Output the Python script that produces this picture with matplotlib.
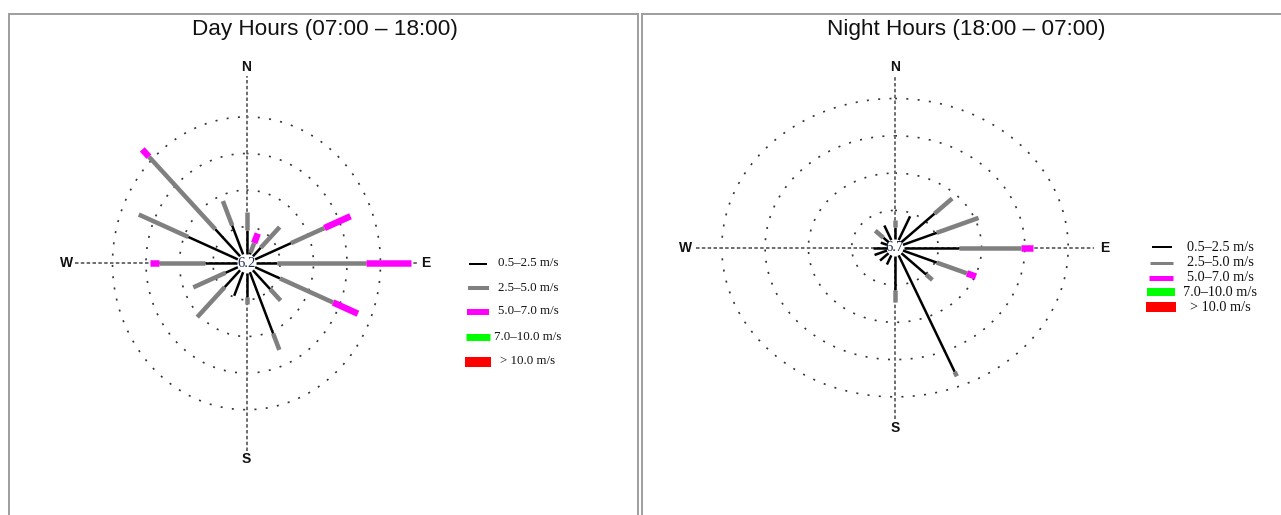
import numpy as np
import matplotlib
matplotlib.use("Agg")
import matplotlib.pyplot as plt
from matplotlib.lines import Line2D
from matplotlib.patches import Rectangle

W, H, DPI = 1281, 515, 100

# ---- data -------------------------------------------------------------
directions = ["N", "NNE", "NE", "ENE", "E", "ESE", "SE", "SSE",
              "S", "SSW", "SW", "WSW", "W", "WNW", "NW", "NNW"]
speed_classes = ["0.5\u20132.5 m/s", "2.5\u20135.0 m/s", "5.0\u20137.0 m/s",
                 "7.0\u201310.0 m/s", "> 10.0 m/s"]
class_colors = ["#000000", "#808080", "#ff00ff", "#00ff00", "#ff0000"]

# frequency (%) per direction for each wind speed class
day_title = "Day Hours (07:00 \u2013 18:00)"
day_calm = 6.2
day_c1 = [2.3, 0.8, 1.5, 3.6, 2.3, 2.7, 2.5, 5.2, 2.3, 2.4, 2.3, 1.7, 3.1, 4.7, 3.3, 2.8]
day_c2 = [1.2, 0.7, 2.0, 2.7, 6.6, 4.3, 1.1, 1.2, 0.5, 0.0, 2.9, 2.6, 3.4, 4.0, 7.0, 1.8]
day_c3 = [0.0, 0.7, 0.0, 2.1, 3.4, 2.0, 0.0, 0.0, 0.0, 0.0, 0.0, 0.0, 0.7, 0.0, 0.7, 0.0]
day_c4 = [0.0] * 16
day_c5 = [0.0] * 16

night_title = "Night Hours (18:00 \u2013 07:00)"
night_calm = 6.7
night_c1 = [2.5, 4.1, 5.8, 4.7, 6.6, 4.7, 4.6, 16.2, 5.1, 2.2, 2.2, 2.3, 2.3, 1.6, 1.7, 2.9]
night_c2 = [0.8, 0.0, 2.6, 4.7, 6.5, 3.4, 0.9, 0.6, 1.4, 0.0, 0.0, 0.0, 0.0, 0.0, 1.2, 0.0]
night_c3 = [0.0, 0.0, 0.0, 0.0, 1.2, 1.0, 0.0, 0.0, 0.0, 0.0, 0.0, 0.0, 0.0, 0.0, 0.0, 0.0]
night_c4 = [0.0] * 16
night_c5 = [0.0] * 16

# ---- figure -----------------------------------------------------------
fig = plt.figure(figsize=(W / DPI, H / DPI), dpi=DPI, facecolor="white")


def fx(px):
    return px / W


def fy(py):
    return 1 - py / H


def px2pt(p):
    return p * 72.0 / DPI


# panel frames
for (x0, x1) in [(8.5, 637.5), (641.5, 1290)]:
    fig.add_artist(Rectangle((fx(x0), fy(520)), fx(x1 - x0), (520 - 13.5) / H,
                             transform=fig.transFigure, fill=False,
                             edgecolor="#a0a0a0", linewidth=px2pt(2)))


def draw_rose(cx, cy, sx, sy, step, classes, calm, title, title_x,
              axis_ext, label_ext, calm_px, calm_fs, legend):
    """sx, sy: pixels per ring; step: ring spacing in percent."""
    nr = 6
    w, h = 2 * nr * sx, 2 * nr * sy
    ax = fig.add_axes([fx(cx - w / 2), fy(cy + h / 2), w / W, h / H])
    lim = nr * step
    ax.set_xlim(-lim, lim)
    ax.set_ylim(-lim, lim)
    ax.set_axis_off()

    # dotted frequency rings
    t = np.linspace(0, 2 * np.pi, 721)
    for k in range(1, 5):
        ax.plot(k * step * np.sin(t), k * step * np.cos(t), color="#333333",
                lw=1.2, linestyle=(0, (1.2, 5.6)), zorder=1, clip_on=False)

    # dashed compass axes
    a = axis_ext * step
    ax.plot([0, 0], [-a, a], color="#6e6e6e", lw=1.4,
            linestyle=(0, (1.8, 1.2)), zorder=2, clip_on=False)
    ax.plot([-a, a], [0, 0], color="#6e6e6e", lw=1.4,
            linestyle=(0, (1.8, 1.2)), zorder=2, clip_on=False)
    b = label_ext * step
    for lab, (x, y) in {"N": (0, b), "S": (0, -b), "E": (b, 0), "W": (-b, 0)}.items():
        ax.text(x, y, lab, ha="center", va="center", fontsize=10,
                fontweight="bold", family="Liberation Sans", color="#111111")

    # calm circle
    ax.plot([0], [0], "o", ms=px2pt(2 * calm_px), mfc="white", mec="white",
            zorder=3, clip_on=False)
    ax.text(0, 0, f"{calm:.1f}", ha="center", va="center", fontsize=calm_fs,
            family="Liberation Serif", color="#1d2b57", zorder=4)

    # spokes: cumulative speed-class segments
    widths = [2.5, 4.5, 6.5, 7.5, 9.0]
    vals = np.array(classes)
    for i in range(len(directions)):
        th = np.deg2rad(i * 22.5)
        s, c = np.sin(th), np.cos(th)
        r0 = calm_px / np.hypot(s * sx / step, c * sy / step)
        cum = np.concatenate([[0.0], np.cumsum(vals[:, i])])
        for j in range(vals.shape[0]):
            if vals[j, i] <= 0:
                continue
            ra, rb = max(cum[j], r0), cum[j + 1]
            ax.plot([ra * s, rb * s], [ra * c, rb * c], color=class_colors[j],
                    lw=px2pt(widths[j]), solid_capstyle="butt", zorder=5,
                    clip_on=False)

    # title
    fig.text(fx(title_x), fy(30), title, ha="center", va="center",
             fontsize=16.2, family="Liberation Sans", color="#111111")

    # legend
    rows_y, xs, lws, text_x, fs = legend
    for j in range(len(speed_classes)):
        fig.add_artist(Line2D([fx(xs[j][0]), fx(xs[j][1])], [fy(rows_y[j])] * 2,
                              transform=fig.transFigure, color=class_colors[j],
                              lw=px2pt(lws[j]), solid_capstyle="butt"))
        fig.text(fx(text_x), fy(rows_y[j]), speed_classes[j], ha="center",
                 va="center", fontsize=fs, family="Liberation Serif",
                 color="#111111")


draw_rose(246.5, 263.3, 33.5, 36.6, 2.5,
          [day_c1, day_c2, day_c3, day_c4, day_c5], day_calm, day_title, 325,
          5.12, 5.36, 9.5, 10.5,
          ([263.5, 288, 311.5, 336.5, 361.5],
           [(469, 487), (468, 489), (467, 489), (466, 490), (465, 491)],
           [2, 4, 6, 7, 10], 528, 9.3))

draw_rose(895, 247.7, 43.3, 37.3, 4.5,
          [night_c1, night_c2, night_c3, night_c4, night_c5], night_calm,
          night_title, 966.5,
          4.6, 4.84, 8.5, 10.5,
          ([247.3, 262.7, 277.7, 292.3, 307.3],
           [(1152, 1172), (1150, 1173), (1149, 1173), (1147, 1175), (1146, 1176)],
           [2, 3, 5, 8, 10], 1220, 10.3))

fig.savefig("out.png", dpi=DPI, facecolor="white")
